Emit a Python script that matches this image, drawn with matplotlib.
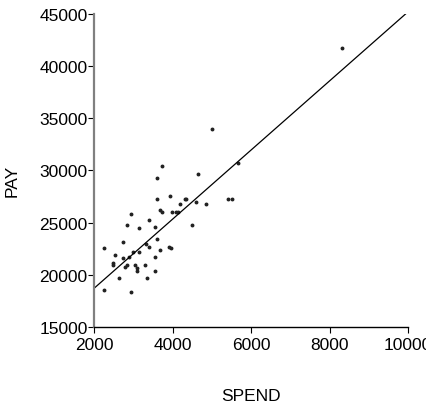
import numpy as np
import matplotlib.pyplot as plt

# per-pupil spending and average teacher pay
spend = [3730, 4648, 3586, 5661, 3586, 3934, 4300, 4340, 5414, 5515,
         4189, 4597, 4852, 3679, 3730, 3985, 4087, 4138, 2923, 3383,
         2821, 4495, 3535, 3128, 3586, 2719, 2250, 3306, 3383, 3893,
         3944, 3679, 2974, 3128, 2515, 2872, 2719, 3535, 2464, 2464,
         2821, 2770, 3026, 3281, 3077, 3077, 3535, 2617, 3332, 2250,
         2923, 8314, 5005]
pay = [30400, 29636, 29250, 30750, 27300, 27530, 27300, 27300, 27300, 27300,
       26760, 26950, 26760, 26185, 25990, 25990, 25990, 25990, 25800, 25226,
       24800, 24800, 24610, 24460, 23460, 23117, 22540, 22930, 22700, 22700,
       22540, 22350, 22160, 22160, 21930, 21740, 21585, 21740, 21100, 20960,
       20970, 20780, 20970, 20970, 20625, 20400, 20400, 19670, 19670, 18520,
       18330, 41741, 34006]

# fitted regression line PAY = b0 + b1 * SPEND
b0, b1 = 12129, 3.3076

plt.rcParams['font.family'] = ['Liberation Sans', 'DejaVu Sans']

fig = plt.figure(figsize=(4.26, 4.06), dpi=100)
ax = fig.add_axes([0.2218, 0.1921, 0.9577 - 0.2218, 0.9631 - 0.1921])

ax.plot(spend, pay, 'o', ms=1.8, color='#222222', mec='#222222')
xs = np.array([2000, 10000])
ax.plot(xs, b0 + b1 * xs, color='black', lw=0.9)

ax.set_xlim(2000, 10000)
ax.set_ylim(15000, 45000)
ax.set_xticks([2000, 4000, 6000, 8000, 10000])
ax.set_yticks([15000, 20000, 25000, 30000, 35000, 40000, 45000])

ax.spines['top'].set_visible(False)
ax.spines['right'].set_visible(False)
ax.spines['left'].set_color('#808080')
ax.spines['left'].set_linewidth(1.6)
ax.spines['bottom'].set_linewidth(1.0)
ax.tick_params(axis='both', direction='out', length=4, width=0.8,
               labelsize=12.5, colors='black', pad=1)
ax.tick_params(axis='x', pad=3)

ax.set_xlabel('SPEND', fontsize=12.5)
ax.set_ylabel('PAY', fontsize=12.5)
ax.xaxis.set_label_coords(0.5, -0.195)
ax.yaxis.set_label_coords(-0.24, 0.47)

fig.savefig('out.png', dpi=100)
